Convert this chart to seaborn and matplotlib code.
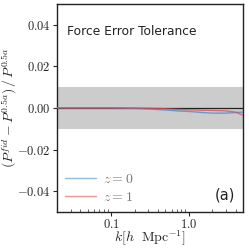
import numpy as np
import pandas as pd
import seaborn as sns
import matplotlib.pyplot as plt
from matplotlib.ticker import FixedLocator, FixedFormatter

# data
k = [0.02, 0.05, 0.1, 0.2, 0.3, 0.5, 0.7, 1.0, 1.5, 2.0, 3.0, 4.0, 5.0]
diff_z0 = [0.0, 0.0, 0.0, -0.0002, -0.0005, -0.001, -0.0014, -0.0017, -0.0022, -0.0025, -0.0025, -0.0022, -0.002]
diff_z1 = [0.0, 0.0, 0.0, 0.0, -0.0001, -0.0004, -0.0007, -0.0009, -0.0011, -0.0012, -0.0014, -0.002, -0.0035]
yticks = [-0.04, -0.02, 0.00, 0.02, 0.04]
ytick_labels = ['$-0.04$', '$-0.02$', '$0.00$', '$0.02$', '$0.04$']

df = pd.DataFrame({
    'k': k * 2,
    'diff': diff_z0 + diff_z1,
    'z': ['$z=0$'] * len(k) + ['$z=1$'] * len(k),
})

sns.set_style('ticks')
plt.rcParams['mathtext.fontset'] = 'cm'
plt.rcParams['font.family'] = ['DejaVu Sans']

fig = plt.figure(figsize=(2.49, 2.49), dpi=100)
ax = fig.add_axes([0.229, 0.149, 0.747, 0.835])

ax.axhspan(-0.01, 0.01, color='#cccccc', lw=0, zorder=0)
sns.lineplot(data=df, x='k', y='diff', hue='z', palette=['#4a8fd0', '#e0505a'],
             lw=1.0, alpha=0.8, ax=ax, zorder=3)
ax.axhline(0, color='#222222', lw=0.9, zorder=2)

ax.set_xscale('log')
ax.set_xlim(0.02, 5.0)
ax.set_ylim(-0.05, 0.05)
ax.xaxis.set_major_locator(FixedLocator([0.1, 1.0]))
ax.xaxis.set_major_formatter(FixedFormatter(['$0.1$', '$1.0$']))
ax.set_yticks(yticks)
ax.set_yticklabels(ytick_labels)
ax.tick_params(axis='both', which='major', direction='out', length=3, width=0.8, labelsize=9, pad=1.5)
ax.tick_params(axis='x', which='minor', direction='in', length=2, width=0.5)

for s in ax.spines.values():
    s.set_linewidth(1.0)
    s.set_color('#222222')

ax.set_xlabel(r'$k[h\ \ \mathrm{Mpc}^{-1}]$', fontsize=10)
ax.set_ylabel(r'$(P^{fid}-P^{0.5a})\,/\,P^{0.5a}$', fontsize=10)
ax.xaxis.set_label_coords(0.5, -0.08)
ax.yaxis.set_label_coords(-0.205, 0.5)

ax.text(0.055, 0.87, 'Force Error Tolerance', transform=ax.transAxes, fontsize=8.8,
        ha='left', va='center', color='#222222')
ax.text(0.955, 0.08, '(a)', transform=ax.transAxes, fontsize=10.5,
        ha='right', va='center', color='#222222')

leg = ax.legend(loc='lower left', frameon=False, fontsize=10, handlelength=2.2,
                borderaxespad=0.2, labelspacing=0.25, handletextpad=0.5)
for t in leg.get_texts():
    t.set_color('#777777')
for h in leg.get_lines():
    h.set_alpha(0.6)

fig.savefig('out.png', dpi=100)
plt.close(fig)
